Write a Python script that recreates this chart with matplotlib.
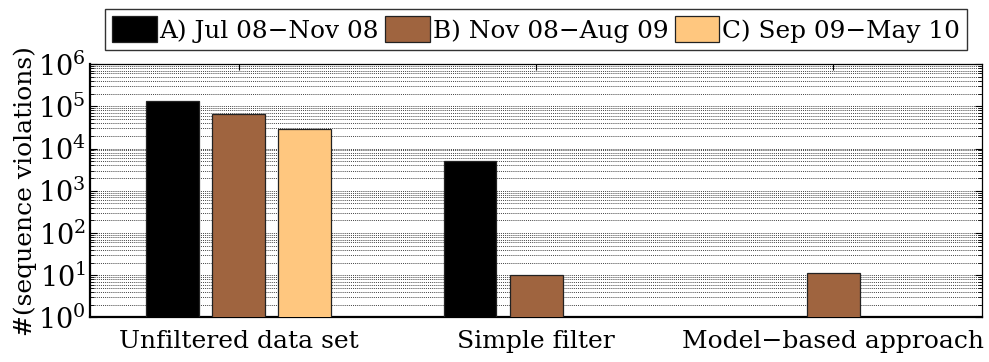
import numpy as np
import matplotlib
matplotlib.use("Agg")
import matplotlib.pyplot as plt
from matplotlib.ticker import FixedLocator, LogLocator, LogFormatterMathtext, NullFormatter

plt.rcParams["font.family"] = ["DejaVu Serif"]
plt.rcParams["mathtext.fontset"] = "custom"
plt.rcParams["mathtext.rm"] = "Liberation Serif"
plt.rcParams["mathtext.it"] = "Liberation Serif:italic"
plt.rcParams["mathtext.bf"] = "Liberation Serif:bold"

categories = ["Unfiltered data set", "Simple filter", "Model\u2212based approach"]
series_labels = ["A) Jul 08\u2212Nov 08", "B) Nov 08\u2212Aug 09", "C) Sep 09\u2212May 10"]
period_a = [133000, 5100, np.nan]
period_b = [65000, 10, 11]
period_c = [29000, np.nan, np.nan]

colors = ["#000000", "#9f643f", "#ffc77f"]

fig = plt.figure(figsize=(9.89, 3.62), dpi=100)
ax = fig.add_axes([0.091, 0.123, 0.902, 0.700])

x = np.arange(1, len(categories) + 1)
width = 0.178
offsets = [-0.222, 0.0, 0.222]
handles = []
for vals, off, col, lab in zip([period_a, period_b, period_c], offsets, colors, series_labels):
    v = np.asarray(vals, dtype=float)
    mask = ~np.isnan(v)
    h = ax.bar(x[mask] + off, v[mask], width=width, color=col,
               edgecolor="#222222", linewidth=0.9, label=lab, zorder=3)
    handles.append(h)

ax.set_yscale("log")
ax.set_ylim(1, 1e6)
ax.set_xlim(0.5, 3.5)
ax.yaxis.set_major_locator(FixedLocator([10.0 ** k for k in range(0, 7)]))
ax.yaxis.set_minor_locator(LogLocator(base=10, subs=np.arange(2, 10), numticks=100))
ax.yaxis.set_major_formatter(LogFormatterMathtext())
ax.yaxis.set_minor_formatter(NullFormatter())
ax.set_xticks(x)
ax.set_xticklabels(categories)

ax.grid(True, which="both", axis="y", linestyle=(0, (1.5, 1.5)), color="black",
        linewidth=0.5, zorder=0)
ax.set_axisbelow(True)

ax.tick_params(axis="both", which="both", direction="in", top=True, right=True)
ax.tick_params(axis="y", which="major", length=5, width=0.8, pad=3, labelsize=19.5)
ax.tick_params(axis="y", which="minor", length=3, width=0.6)
ax.tick_params(axis="x", which="major", length=4, width=0.8, pad=9, labelsize=18)

for side in ["left", "bottom"]:
    ax.spines[side].set_linewidth(1.6)
for side in ["top", "right"]:
    ax.spines[side].set_linewidth(0.9)

ax.set_ylabel("#(sequence violations)", fontsize=18, labelpad=1)

leg = fig.legend(handles=handles, labels=series_labels, loc="lower center",
                 bbox_to_anchor=(0.542, 0.862), ncol=3, fontsize=17.8,
                 frameon=True, fancybox=False, edgecolor="black",
                 handlelength=1.8, handleheight=1.25, handletextpad=0.12,
                 columnspacing=0.25, borderpad=0.3, borderaxespad=0.0)
leg.get_frame().set_linewidth(1.0)

fig.savefig("out.png", dpi=100)
